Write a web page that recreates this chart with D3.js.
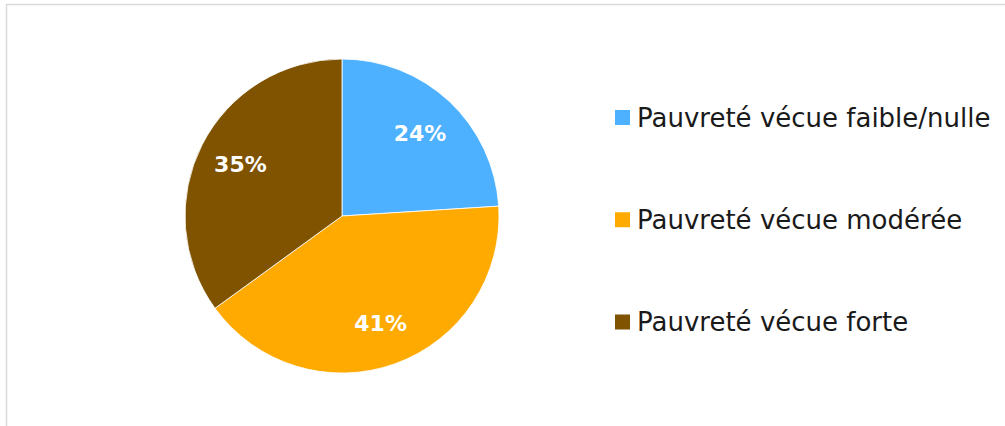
<!DOCTYPE html>
<html>
<head>
<meta charset="utf-8">
<script src="https://cdn.jsdelivr.net/npm/d3@7"></script>
<style>
  body { margin: 0; background: #fff; }
  svg { display: block; }
</style>
</head>
<body>
<svg id="chart" width="1005" height="426"></svg>
<script>
var categories = ["Pauvreté vécue faible/nulle", "Pauvreté vécue modérée", "Pauvreté vécue forte"];
var values = [24, 41, 35];
var colors = ["#4db1ff", "#ffaa00", "#7f5300"];

var svg = d3.select("#chart");

// chart frame (right and bottom sides run off the picture)
svg.append("rect")
    .attr("x", 6.5)
    .attr("y", 4.5)
    .attr("width", 1100)
    .attr("height", 500)
    .attr("fill", "none")
    .attr("stroke", "#d9d9d9")
    .attr("stroke-width", 1.5);

var cx = 342, cy = 216, radius = 157;

var data = categories.map(function(c, i) { return {name: c, value: values[i], color: colors[i]}; });

var color = d3.scaleOrdinal()
    .domain(categories)
    .range(colors);

var pie = d3.pie()
    .value(function(d) { return d.value; })
    .sort(null);

var arc = d3.arc()
    .innerRadius(0)
    .outerRadius(radius);

var labelArc = d3.arc()
    .innerRadius(228)
    .outerRadius(0);

var g = svg.append("g")
    .attr("transform", "translate(" + cx + "," + cy + ")");

var slices = g.selectAll(".slice")
    .data(pie(data))
    .enter().append("g")
    .attr("class", "slice");

slices.append("path")
    .attr("d", arc)
    .style("fill", function(d) { return color(d.data.name); })
    .style("stroke", "#fff")
    .style("stroke-width", 0.8);

slices.append("text")
    .attr("transform", function(d) { return "translate(" + labelArc.centroid(d) + ")"; })
    .attr("dy", ".35em")
    .style("text-anchor", "middle")
    .style("font-family", "'DejaVu Sans', sans-serif")
    .style("font-weight", "bold")
    .style("font-size", "22px")
    .style("fill", "#fff")
    .text(function(d) { return d.data.value + "%"; });

var legendY = d3.scalePoint()
    .domain(categories)
    .range([117.5, 322]);

var legend = svg.selectAll(".legend")
    .data(categories)
    .enter().append("g")
    .attr("class", "legend")
    .attr("transform", function(d) { return "translate(615," + legendY(d) + ")"; });

legend.append("rect")
    .attr("x", 0)
    .attr("y", -7.5)
    .attr("width", 15)
    .attr("height", 15)
    .style("fill", function(d) { return color(d); });

legend.append("text")
    .attr("x", 22)
    .attr("y", 0)
    .attr("dy", ".35em")
    .style("font-family", "'DejaVu Sans', sans-serif")
    .style("font-size", "26px")
    .style("fill", "#1a1a1a")
    .text(function(d) { return d; });
</script>
</body>
</html>
